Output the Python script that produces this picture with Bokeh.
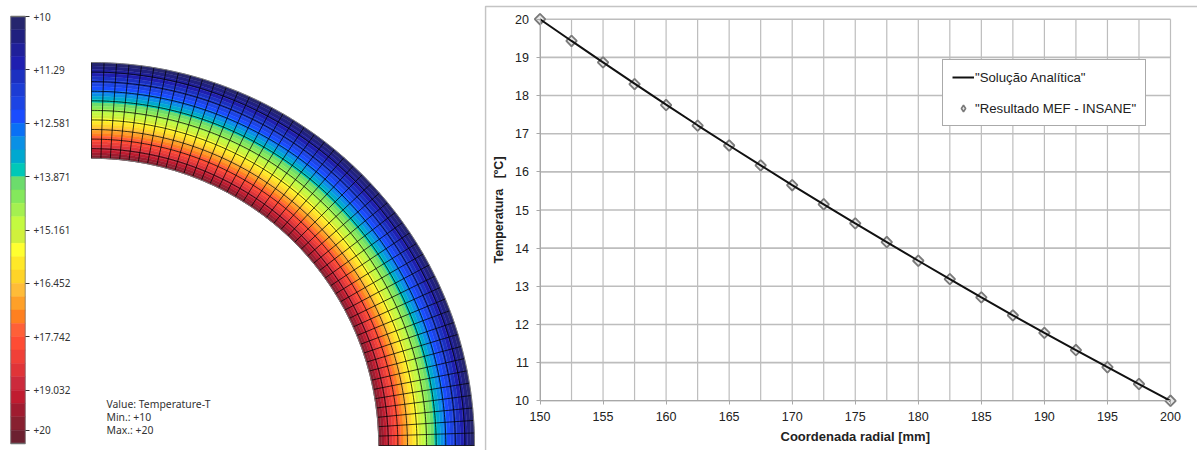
import numpy as np
from bokeh.embed import file_html
from bokeh.resources import INLINE
from bokeh.layouts import row
from bokeh.plotting import figure
from bokeh.models import (Range1d, FixedTicker, LinearAxis, Label, Legend, LegendItem)

# ---- data ----
radial = [150, 152.5, 155, 157.5, 160, 162.5, 165, 167.5, 170, 172.5, 175,
          177.5, 180, 182.5, 185, 187.5, 190, 192.5, 195, 197.5, 200]
analytic = [20, 19.43, 18.87, 18.31, 17.76, 17.22, 16.69, 16.17, 15.65, 15.15, 14.65,
            14.16, 13.67, 13.19, 12.71, 12.24, 11.78, 11.33, 10.88, 10.44, 10]
mef = [20, 19.43, 18.87, 18.30, 17.75, 17.21, 16.69, 16.17, 15.65, 15.15, 14.65,
       14.16, 13.67, 13.19, 12.71, 12.24, 11.78, 11.33, 10.88, 10.44, 10]
x_ticks = [150, 155, 160, 165, 170, 175, 180, 185, 190, 195, 200]
x_grid = [150, 152.5, 155, 157.5, 160, 162.5, 165, 167.5, 170, 172.5, 175,
          177.5, 180, 182.5, 185, 187.5, 190, 192.5, 195, 197.5, 200]
y_ticks = [10, 11, 12, 13, 14, 15, 16, 17, 18, 19, 20]

scale_values = [10, 11.29, 12.581, 13.871, 15.161, 16.452, 17.742, 19.032, 20]
scale_labels = ["+10", "+11.29", "+12.581", "+13.871", "+15.161", "+16.452", "+17.742", "+19.032", "+20"]
band_colors = ["#26266e", "#20207f", "#20209a", "#1f1fb0", "#1c30c0", "#1c3cd4", "#1c44e4", "#1a4cff",
               "#0a70f5", "#0a90e5", "#00a8d0", "#00c8b8", "#6cdc6c", "#84e85c", "#a4f050", "#c4fa40",
               "#d0f03c", "#ffff30", "#ffe828", "#ffd428", "#ffbc38", "#ffa028", "#ff8020", "#ff6038",
               "#ff4c34", "#f04038", "#e03438", "#cc2a3c", "#c01c30", "#a01c30", "#882030", "#6c2030"]
scale_top, scale_bottom = 10, 20.32
n_rings, n_sectors = 10, 48
r_inner, r_outer = 150, 200

FONT_A = "Liberation Sans"
FONT_B = "Noto Sans"
TXT = "#222222"
H = 450

band_edges = np.linspace(scale_top, scale_bottom, len(band_colors) + 1)

# ---- colour scale ----
cb_scale = 427 / (scale_bottom - scale_top)
cb = figure(width=85, height=H, output_backend="svg", toolbar_location=None,
            x_range=Range1d(0, 1),
            y_range=Range1d(scale_bottom + 7 / cb_scale, scale_top - 16 / cb_scale),
            min_border_left=10, min_border_right=60, min_border_top=0, min_border_bottom=0,
            x_axis_type=None, y_axis_type=None, outline_line_color=None)
cb.grid.visible = False
cb.quad(left=0, right=1, top=band_edges[:-1], bottom=band_edges[1:],
        fill_color=band_colors, line_color=band_colors, line_width=0.5)
cb.quad(left=0, right=1, top=scale_top, bottom=scale_bottom, fill_color=None,
        line_color="#6f6f6f", line_width=1.4)
cb_axis = LinearAxis(ticker=FixedTicker(ticks=scale_values),
                     major_label_overrides=dict(zip(scale_values, scale_labels)),
                     axis_line_color=None, major_tick_line_color="#333333",
                     major_tick_out=4, major_tick_in=0, minor_tick_line_color=None,
                     major_label_text_font=FONT_B, major_label_text_font_size="10px",
                     major_label_text_color="#333333", major_label_standoff=4)
cb.add_layout(cb_axis, "right")

# ---- mesh ----
s = 1.915
m_w = 399
m = figure(width=m_w, height=H, output_backend="svg", toolbar_location=None,
           x_range=Range1d(-6 / s, (m_w - 6) / s), y_range=Range1d(-5 / s, (H - 5) / s),
           min_border_left=0, min_border_right=0, min_border_top=0, min_border_bottom=0,
           x_axis_type=None, y_axis_type=None, outline_line_color=None)
m.grid.visible = False
r_edges = np.clip(np.interp(band_edges, analytic[::-1], radial[::-1]), r_inner, r_outer)
m.annular_wedge(x=0, y=0, inner_radius=r_edges[1:], outer_radius=r_edges[:-1],
                start_angle=0, end_angle=np.pi / 2, fill_color=band_colors,
                line_color=band_colors, line_width=0.4)
th = np.linspace(0, np.pi / 2, 181)
rr = np.linspace(r_inner, r_outer, n_rings + 1)
m.multi_line([list(r * np.cos(th)) for r in rr[1:-1]], [list(r * np.sin(th)) for r in rr[1:-1]],
             line_color="#000000", line_width=1, line_alpha=0.75)
ts = np.linspace(0, np.pi / 2, n_sectors + 1)
m.segment(r_inner * np.cos(ts), r_inner * np.sin(ts), r_outer * np.cos(ts), r_outer * np.sin(ts),
          line_color="#000000", line_width=1, line_alpha=0.75)
m.multi_line([list(r * np.cos(th)) for r in (r_inner, r_outer)],
             [list(r * np.sin(th)) for r in (r_inner, r_outer)],
             line_color="#7a7a7a", line_width=1)
for txt, py in (("Value: Temperature-T", 403), ("Min.: +10", 416), ("Max.: +20", 429)):
    m.add_layout(Label(x=(106 - 91) / s, y=(445 - py) / s, text=txt, text_font=FONT_B,
                       text_font_size="10.4px", text_color="#333333",
                       text_baseline="middle", text_align="left"))

# ---- chart ----
c_w = 713
x0_px, x_scale = 539.5 - 484, 12.61
y0_px, y_scale = 18.7, 38.16
x_rng = Range1d(150 - x0_px / x_scale, 150 + (c_w - x0_px) / x_scale)
y_rng = Range1d(20 - (H - y0_px) / y_scale, 20 + y0_px / y_scale)
c = figure(width=c_w, height=H, output_backend="svg", toolbar_location=None,
           x_range=x_rng, y_range=y_rng,
           min_border_left=0, min_border_right=0, min_border_top=0, min_border_bottom=0,
           x_axis_type=None, y_axis_type=None, outline_line_color=None)
c.grid.visible = False
GRID = "#bdbdbd"
c.segment(x_grid, 10, x_grid, 20, line_color=GRID, line_width=1.2)
c.segment(150, y_ticks, 200, y_ticks, line_color=GRID, line_width=1.6)
# outer frame of the chart picture
bx = x_rng.start + 1 / x_scale
by = 20 + (y0_px - 6) / y_scale
c.line([bx, bx, x_rng.end], [y_rng.start, by, by], line_color="#c4c4c4", line_width=1.6)

xa = LinearAxis(ticker=FixedTicker(ticks=x_ticks), fixed_location=10, bounds=(150, 200),
                axis_line_color="#a8a8a8", major_tick_line_color="#a8a8a8", major_tick_out=4,
                major_tick_in=0, minor_tick_line_color=None, major_label_standoff=7,
                major_label_text_font=FONT_A, major_label_text_font_size="12.5px",
                major_label_text_color=TXT)
ya = LinearAxis(ticker=FixedTicker(ticks=y_ticks), fixed_location=150, bounds=(10, 20),
                axis_line_color="#a8a8a8", major_tick_line_color="#a8a8a8", major_tick_out=4,
                major_tick_in=0, minor_tick_line_color=None, major_label_standoff=7,
                major_label_text_font=FONT_A, major_label_text_font_size="12.5px",
                major_label_text_color=TXT)
c.add_layout(xa, "below")
c.add_layout(ya, "left")

# the legend draws markers unrotated, so its key is a diamond lying under each rotated square
mk_key = c.scatter(radial, mef, marker="diamond", size=10, fill_color="#e6e6e6",
                   line_color="#7a7a7a", line_width=1.6)
c.scatter(radial, mef, marker="square", angle=np.pi / 4, size=7.5, fill_color="#e6e6e6",
          line_color="#7a7a7a", line_width=1.8)
ln = c.line(radial, analytic, line_color="#111111", line_width=2)

c.add_layout(Label(x=175, y=10 - (436 - 400.3) / y_scale, text="Coordenada radial [mm]",
                   text_font=FONT_A, text_font_style="bold", text_font_size="13px",
                   text_color=TXT, text_align="center", text_baseline="middle"))
c.add_layout(Label(x=150 - (539.5 - 498) / x_scale, y=15, text="Temperatura\u00a0\u00a0\u00a0[ºC]", angle=np.pi / 2,
                   text_font=FONT_A, text_font_style="bold", text_font_size="12.5px",
                   text_color=TXT, text_align="center", text_baseline="middle"))

legend = Legend(items=[LegendItem(label='"Solução Analítica"', renderers=[ln]),
                       LegendItem(label='"Resultado MEF - INSANE"', renderers=[mk_key])],
                location=(942 - 484, H - 126), orientation="vertical",
                padding=9, spacing=15, margin=0, glyph_width=22, glyph_height=16,
                label_height=16, label_standoff=1,
                border_line_color="#555555", border_line_width=1.2,
                background_fill_color="#ffffff", background_fill_alpha=1,
                label_text_font=FONT_A, label_text_font_size="13.2px", label_text_color=TXT)
c.add_layout(legend)

layout = row(cb, m, c, spacing=0)
open("out.html", "w").write(file_html(layout, INLINE))
